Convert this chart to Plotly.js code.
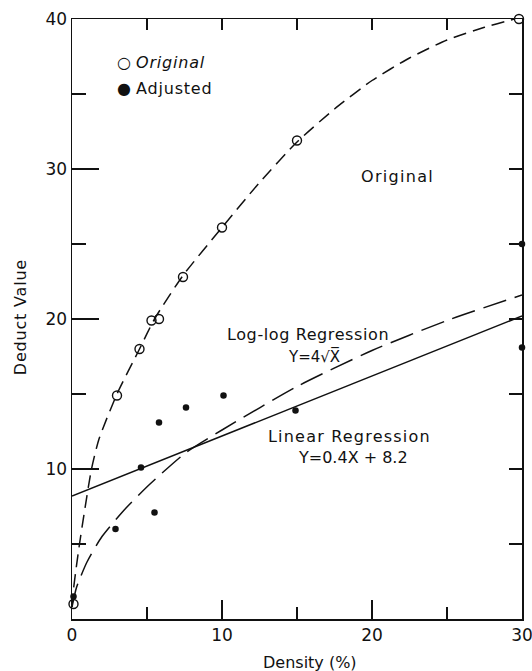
<!DOCTYPE html>
<html>
<head>
<meta charset="utf-8">
<script src="https://cdn.plot.ly/plotly-3.0.1.min.js"></script>
<style>html,body{margin:0;padding:0;background:#fff;}#chart{width:532px;height:671px;}</style>
</head>
<body>
<div id="chart"></div>
<script>
// Original (open circles) observations
const origPtX = [0.1, 3, 4.5, 5.3, 5.8, 7.4, 10, 15, 29.3, 29.8];
const origPtY = [1.0, 14.9, 18, 19.9, 20, 22.8, 26.1, 31.9, 40.1, 40];
// Adjusted (filled dots) observations
const adjPtX = [0.1, 2.9, 4.6, 5.5, 5.8, 7.6, 10.1, 14.9, 30, 30];
const adjPtY = [1.5, 6.0, 10.1, 7.1, 13.1, 14.1, 14.9, 13.9, 25, 18.1];
// Hand-drawn "Original" curve
const origCurveX = [0, 0.1, 0.5, 1.3, 1.8, 3, 4.5, 5.5, 7.4, 10, 12.5, 15, 17.5, 20, 22.5, 25, 27.5, 29.5];
const origCurveY = [0.8, 2, 5, 10, 12, 15, 18, 20, 22.9, 26.1, 29.1, 31.8, 34.0, 35.9, 37.4, 38.6, 39.45, 40];
// Log-log regression curve Y = 4 sqrt(X)
const logCurveX = [0, 0.3, 1, 2, 3.6, 5.2, 7.6, 10, 15, 20, 25, 30];
const logCurveY = [0.8, 2.1, 3.8, 5.5, 7.4, 9.0, 11.1, 12.6, 15.5, 17.9, 19.9, 21.6];
// Linear regression Y = 0.4X + 8.2, end points
const linX = [0, 30];
const linY = [8.2, 20.2];
// Tick labels
const xTickVals = [0, 10, 20, 30];
const xTickText = ['0', '10', '20', '30'];
const yTickVals = [10, 20, 30, 40];
const yTickText = ['10', '20', '30', '40'];

const FONT = 'DejaVu Sans, Liberation Sans, sans-serif';
const INK = '#111';

const traces = [
  {x: origCurveX, y: origCurveY, mode: 'lines', line: {color: INK, width: 1.5, dash: '13px,7px', shape: 'spline', smoothing: 0.6}, hoverinfo: 'skip', showlegend: false},
  {x: logCurveX, y: logCurveY, mode: 'lines', line: {color: INK, width: 1.5, dash: '24px,9px', shape: 'spline', smoothing: 0.6}, hoverinfo: 'skip', showlegend: false},
  {x: linX, y: linY, mode: 'lines', line: {color: INK, width: 1.5}, hoverinfo: 'skip', showlegend: false},
  {x: origPtX, y: origPtY, mode: 'markers', name: 'Original', cliponaxis: false,
   marker: {symbol: 'circle-open', size: 9, color: INK, line: {width: 1.4, color: INK}}, showlegend: false},
  {x: adjPtX, y: adjPtY, mode: 'markers', name: 'Adjusted', cliponaxis: false,
   marker: {symbol: 'circle', size: 6.5, color: INK}, showlegend: false},
  {x: [], y: [], xaxis: 'x2', yaxis: 'y2', showlegend: false}
];

const sp = (t, s) => '<span style="letter-spacing:' + s + 'px">' + t + '</span>';
const ann = (x, y, text, size, extra) => Object.assign({x: x, y: y, xref: 'x', yref: 'y', text: text, showarrow: false,
  font: {family: FONT, size: size, color: INK}}, extra || {});

const layout = {
  width: 532, height: 671,
  margin: {l: 72, r: 10, t: 19, b: 52},
  paper_bgcolor: '#fff', plot_bgcolor: '#fff',
  showlegend: false,
  font: {family: FONT, color: INK},
  xaxis: {
    range: [0, 30], showgrid: false, zeroline: false,
    showline: true, linecolor: INK, linewidth: 1.5,
    ticks: 'inside', ticklen: 19, tickwidth: 1.5, tickcolor: INK,
    tickmode: 'array', tickvals: xTickVals, ticktext: xTickText,
    ticklabeloverflow: 'allow',
    tickfont: {family: FONT, size: 17, color: INK},
    minor: {tickmode: 'array', tickvals: [5, 15, 25], ticks: 'inside', ticklen: 12, tickwidth: 1.5, tickcolor: INK, showgrid: false}
  },
  yaxis: {
    range: [0, 40], showgrid: false, zeroline: false,
    showline: true, linecolor: INK, linewidth: 1.5,
    ticks: 'inside', ticklen: 27, tickwidth: 1.5, tickcolor: INK,
    tickmode: 'array', tickvals: yTickVals, ticktext: yTickText,
    ticklabeloverflow: 'allow',
    tickfont: {family: FONT, size: 17, color: INK},
    minor: {tickmode: 'array', tickvals: [5, 15, 25, 35], ticks: 'inside', ticklen: 14, tickwidth: 1.5, tickcolor: INK, showgrid: false}
  },
  xaxis2: {
    overlaying: 'x', side: 'top', anchor: 'y', range: [0, 30],
    showgrid: false, zeroline: false, showline: true, linecolor: INK, linewidth: 1.5,
    ticks: 'inside', ticklen: 11, tickwidth: 1.5, tickcolor: INK,
    tickmode: 'array', tickvals: [5, 10, 15, 20, 25], showticklabels: false
  },
  yaxis2: {
    overlaying: 'y', side: 'right', anchor: 'x', range: [0, 40],
    showgrid: false, zeroline: false, showline: true, linecolor: INK, linewidth: 1.5,
    ticks: 'inside', ticklen: 13, tickwidth: 1.5, tickcolor: INK,
    tickmode: 'array', tickvals: [5, 10, 15, 20, 25, 30, 35], showticklabels: false
  },
  annotations: [
    ann(2.85, 37.1, '○ <i>' + sp('Original', 0.8) + '</i>', 16, {xanchor: 'left'}),
    ann(2.85, 35.4, '● ' + sp('Adjusted', 0.8), 16, {xanchor: 'left'}),
    ann(21.7, 29.5, sp('Original', 1.3), 16),
    ann(15.7, 19.0, sp('Log-log Regression', 0.6), 16),
    ann(16.1, 17.5, 'Y=4√X̅', 15),
    ann(18.5, 12.2, sp('Linear Regression', 1.2), 16),
    ann(18.7, 10.8, 'Y=0.4X + 8.2', 16),
    {x: -0.1156, y: 0.503, xref: 'paper', yref: 'paper', xanchor: 'center', yanchor: 'middle',
     text: sp('Deduct Value', 0.8), textangle: -90, showarrow: false,
     font: {family: FONT, size: 16, color: INK}},
    {x: 0.529, y: -0.0717, xref: 'paper', yref: 'paper', xanchor: 'center', yanchor: 'middle',
     text: 'Density (%)', showarrow: false,
     font: {family: FONT, size: 16, color: INK}}
  ]
};

Plotly.newPlot('chart', traces, layout, {displayModeBar: false, staticPlot: true});
</script>
</body>
</html>
